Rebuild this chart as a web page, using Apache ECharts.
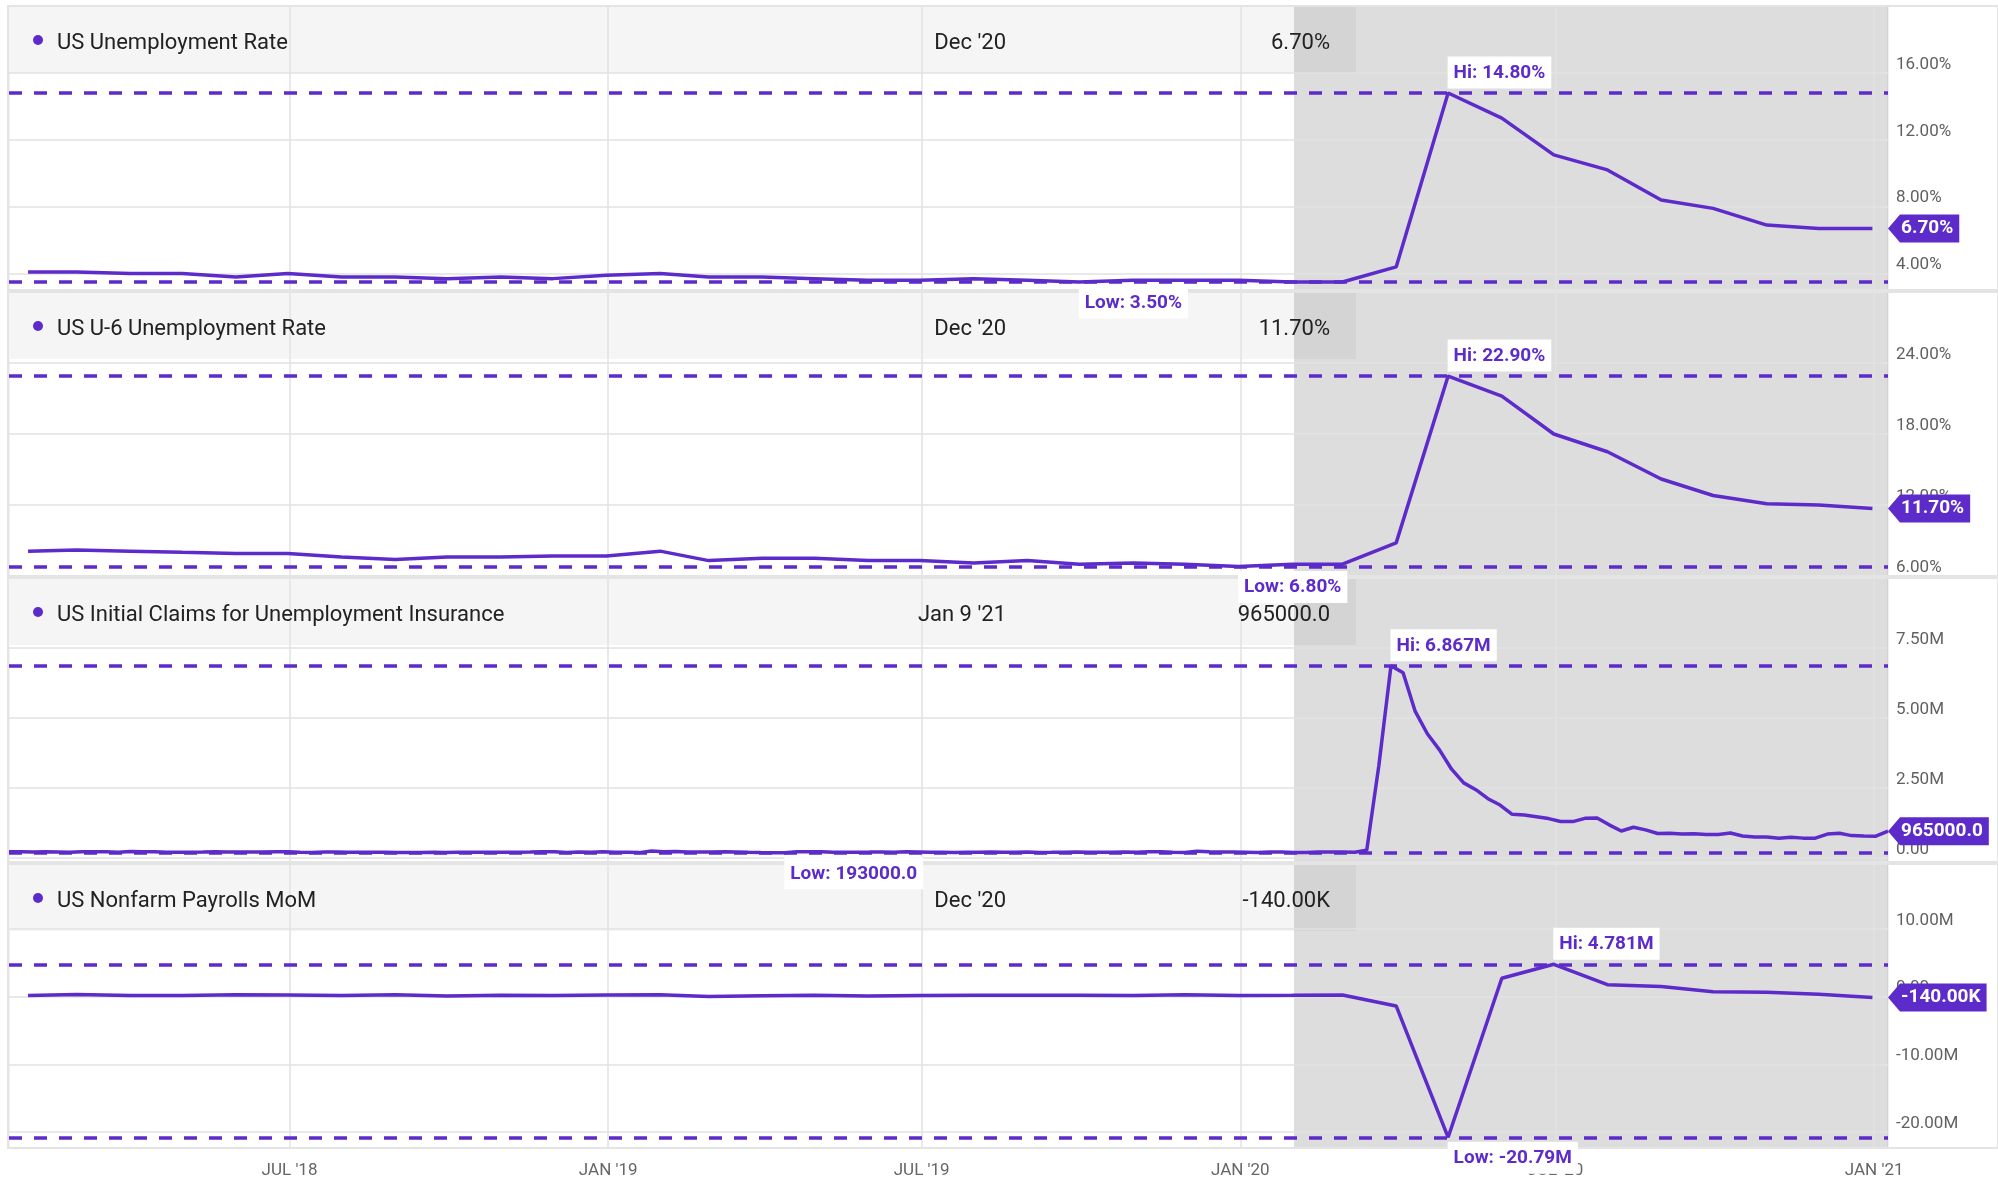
<!DOCTYPE html>
<html><head><meta charset="utf-8">
<script src="https://cdn.jsdelivr.net/npm/echarts@6/dist/echarts.min.js"></script>
<style>html,body{margin:0;padding:0;background:#fff}#c{width:1998px;height:1182px}</style>
</head><body><div id="c"></div>
<script>
// ---------------- DATA ----------------
const months = ['2018-01','2018-02','2018-03','2018-04','2018-05','2018-06','2018-07','2018-08','2018-09','2018-10','2018-11','2018-12',
  '2019-01','2019-02','2019-03','2019-04','2019-05','2019-06','2019-07','2019-08','2019-09','2019-10','2019-11','2019-12',
  '2020-01','2020-02','2020-03','2020-04','2020-05','2020-06','2020-07','2020-08','2020-09','2020-10','2020-11','2020-12'];
const unemploymentRate = [4.1,4.1,4.0,4.0,3.8,4.0,3.8,3.8,3.7,3.8,3.7,3.9,
  4.0,3.8,3.8,3.7,3.6,3.6,3.7,3.6,3.5,3.6,3.6,3.6,
  3.5,3.5,4.4,14.8,13.3,11.1,10.2,8.4,7.9,6.9,6.7,6.7];
const u6Rate = [8.1,8.2,8.1,8.0,7.9,7.9,7.6,7.4,7.6,7.6,7.7,7.7,
  8.1,7.3,7.5,7.5,7.3,7.3,7.1,7.3,7.0,7.1,7.0,6.8,
  7.0,7.0,8.8,22.9,21.2,18.0,16.5,14.2,12.8,12.1,12.0,11.7];
// weekly initial claims (thousands), week ending Saturdays from 2018-01-20
const claimsFirstWeek = '2018-01-20';
const initialClaimsK = [233,230,221,230,222,210,231,226,229,215,242,233,232,209,211,211,222,234,221,222,218,218,227,231,214,207,217,218,213,212,210,213,203,204,201,214,207,210,210,215,214,214,216,224,234,231,206,217,216,231,
  216,213,199,253,234,239,225,223,223,229,221,211,202,196,193,230,230,228,212,211,215,218,222,216,227,221,209,216,206,215,209,220,209,215,217,204,208,213,219,210,214,212,218,211,227,227,213,203,252,234,222,220,
  214,207,223,217,202,205,219,219,217,211,282,3307,6867,6615,5237,4442,3867,3176,2687,2446,2123,1897,1566,1540,1482,1413,1310,1307,1422,1435,1191,971,1104,1011,881,893,866,873,849,845,898,791,758,757,711,748,716,716,862,892,806,790,
  784,965];
// nonfarm payrolls month-over-month change (thousands)
const payrollsMoMK = [176,324,155,175,270,235,178,270,108,189,165,227,
  269,1,147,210,85,182,194,207,208,185,261,184,
  214,251,-1373,-20787,2725,4781,1761,1493,711,654,336,-140];

const xTickDates = ['2018-07-01','2019-01-01','2019-07-01','2020-01-01','2020-07-01','2021-01-01'];
const xTickLabels = ["JUL '18","JAN '19","JUL '19","JAN '20","JUL '20","JAN '21"];
const yTicksUR = [4, 8, 12, 16];
const yTicksU6 = [6, 12, 18, 24];
const yTicksClaims = [0, 2500, 5000, 7500];
const yTicksNFP = [-20000, -10000, 0, 10000];

const panelTitles = ['US Unemployment Rate','US U-6 Unemployment Rate','US Initial Claims for Unemployment Insurance','US Nonfarm Payrolls MoM'];
const panelDates = ["Dec '20","Dec '20","Jan 9 '21","Dec '20"];
const axisStart = '2018-01-20';
const axisEnd = '2021-01-09';
const shadeStart = '2020-02-01';

// ---------------- HELPERS ----------------
const PURPLE = '#5d2bc9';
const FONT = 'Roboto, "Noto Sans", sans-serif';
const ts = s => { const [y,m,d] = s.split('-').map(Number); return Date.UTC(y, m-1, d); };
const monthEnd = s => { const [y,m] = s.split('-').map(Number); return Date.UTC(y, m, 0); };
const monthX = months.map(monthEnd);
const weekX = initialClaimsK.map((_, i) => ts(claimsFirstWeek) + i * 7 * 86400000);
const tMin = ts(axisStart), tMax = ts(axisEnd);

const fmtPct = v => v.toFixed(2) + '%';
const fmtClaims = v => v >= 1000 ? (v/1000).toPrecision(4) + 'M' : (v*1000).toFixed(1);
const fmtClaimsAxis = v => v === 0 ? '0.00' : (v/1000).toFixed(2) + 'M';
const fmtNFP = v => Math.abs(v) >= 1000 ? (v/1000).toPrecision(4) + 'M' : v.toFixed(2) + 'K';
const fmtNFPAxis = v => v === 0 ? '0.00' : (v/1000).toFixed(2) + 'M';

const panels = [
  {x: monthX, y: unemploymentRate, ticks: yTicksUR, min: 3.02, max: 20, fmt: fmtPct, axisFmt: fmtPct},
  {x: monthX, y: u6Rate, ticks: yTicksU6, min: 6, max: 30, fmt: fmtPct, axisFmt: fmtPct},
  {x: weekX, y: initialClaimsK, ticks: yTicksClaims, min: -136, max: 10000, fmt: fmtClaims, axisFmt: fmtClaimsAxis},
  {x: monthX, y: payrollsMoMK, ticks: yTicksNFP, min: -22370, max: 19600, fmt: fmtNFP, axisFmt: fmtNFPAxis}
];

const tops = [6, 292, 578, 864];
const H = 284, LEFT = 9, RIGHT = 110;

const grids = [], xAxes = [], yAxes = [], series = [], graphics = [];
const xTickTs = xTickDates.map(ts);

panels.forEach((p, i) => {
  grids.push({left: LEFT, right: RIGHT, top: tops[i], height: H, show: true, borderColor: '#e4e4e4', borderWidth: 1, backgroundColor: 'transparent'});
  xAxes.push({
    type: 'value', gridIndex: i, min: tMin, max: tMax, z: 2, scale: true,
    axisLine: {show: false},
    axisTick: {show: false, customValues: xTickTs},
    axisLabel: {show: i === 3, customValues: xTickTs, color: '#666', fontSize: 17, fontFamily: FONT, margin: 14,
      formatter: v => { const k = xTickTs.indexOf(v); return k >= 0 ? xTickLabels[k] : ''; }},
    splitLine: {show: true, lineStyle: {color: '#e2e2e2', width: 1.5}}
  });
  yAxes.push({
    type: 'value', gridIndex: i, position: 'right', min: p.min, max: p.max, z: 2,
    axisLine: {show: false},
    axisTick: {show: false, customValues: p.ticks},
    axisLabel: {customValues: p.ticks, color: '#616161', fontSize: 17, fontFamily: FONT, margin: 8, align: 'left', verticalAlign: 'bottom',
      formatter: v => p.axisFmt(v)},
    splitLine: {show: true, lineStyle: {color: '#e2e2e2', width: 1.5}}
  });
  const data = p.x.map((x, k) => [x, p.y[k]]);
  const hiVal = Math.max(...p.y), loVal = Math.min(...p.y);
  const hiIdx = p.y.indexOf(hiVal), loIdx = p.y.indexOf(loVal);
  const lastVal = p.y[p.y.length - 1];
  series.push({
    type: 'line', xAxisIndex: i, yAxisIndex: i, data: data, symbol: 'none', silent: true, z: 1,
    lineStyle: {opacity: 0}, animation: false,
    markArea: {silent: true, itemStyle: {color: 'rgba(0,0,0,0.135)'}, data: [[{xAxis: ts(shadeStart)}, {xAxis: tMax}]]}
  });
  const boxLabel = (text, below) => ({
    show: true, formatter: text, position: below ? [0, 5] : [0, -4], align: 'left', verticalAlign: below ? 'top' : 'bottom',
    color: PURPLE, fontWeight: 'bold', fontSize: 19, fontFamily: FONT, backgroundColor: '#fff', padding: [7, 6, 6, 6]
  });
  series.push({
    type: 'line', xAxisIndex: i, yAxisIndex: i, data: data, symbol: 'none', showSymbol: false, z: 5, animation: false,
    lineStyle: {color: PURPLE, width: 3.5}, silent: true,
    markLine: {silent: true, symbol: ['none','none'], animation: false, label: {show: false},
      lineStyle: {color: PURPLE, width: 3.5, type: [13, 12]},
      data: [{yAxis: hiVal}, {yAxis: loVal}]},
    markPoint: {silent: true, animation: false, data: [
      {coord: [p.x[hiIdx], hiVal], symbol: 'circle', symbolSize: 1, itemStyle: {color: 'rgba(0,0,0,0)'}, label: boxLabel('Hi: ' + p.fmt(hiVal), false)},
      {coord: [p.x[loIdx], loVal], symbol: 'circle', symbolSize: 1, itemStyle: {color: 'rgba(0,0,0,0)'}, label: boxLabel('Low: ' + p.fmt(loVal), true)},
      {coord: [tMax, lastVal], symbol: 'path://M0,14L12,0L12,28Z', symbolSize: [12, 28], symbolOffset: [6, 0],
        itemStyle: {color: PURPLE},
        label: {show: true, position: 'right', distance: 0, formatter: p.fmt(lastVal), color: '#fff', fontWeight: 'bold',
          fontSize: 19, fontFamily: FONT, backgroundColor: PURPLE, padding: [4, 6, 3, 1], lineHeight: 21}}
    ]}
  });
  const top = tops[i];
  graphics.push({type: 'rect', silent: true, z: 0, shape: {x: LEFT, y: top, width: 1347, height: 67}, style: {fill: '#f5f5f5'}});
  graphics.push({type: 'circle', silent: true, z: 10, shape: {cx: 38, cy: top + 34, r: 5}, style: {fill: PURPLE}});
  graphics.push({type: 'text', silent: true, z: 10, x: 57, y: top + 37, style: {text: panelTitles[i], fontSize: 22, fontFamily: FONT, fill: '#222', align: 'left', verticalAlign: 'middle'}});
  graphics.push({type: 'text', silent: true, z: 10, x: 1006, y: top + 37, style: {text: panelDates[i], fontSize: 22, fontFamily: FONT, fill: '#222', align: 'right', verticalAlign: 'middle'}});
  graphics.push({type: 'text', silent: true, z: 10, x: 1330, y: top + 37, style: {text: p.fmt(lastVal), fontSize: 22, fontFamily: FONT, fill: '#222', align: 'right', verticalAlign: 'middle'}});
  graphics.push({type: 'rect', silent: true, z: 3, shape: {x: 8, y: top, width: 1990, height: H}, style: {fill: 'none', stroke: '#e4e4e4', lineWidth: 2}});
});

const chart = echarts.init(document.getElementById('c'), null, {renderer: 'canvas'});
chart.setOption({
  backgroundColor: '#fff',
  animation: false,
  grid: grids, xAxis: xAxes, yAxis: yAxes, series: series,
  graphic: graphics
});
</script></body></html>
